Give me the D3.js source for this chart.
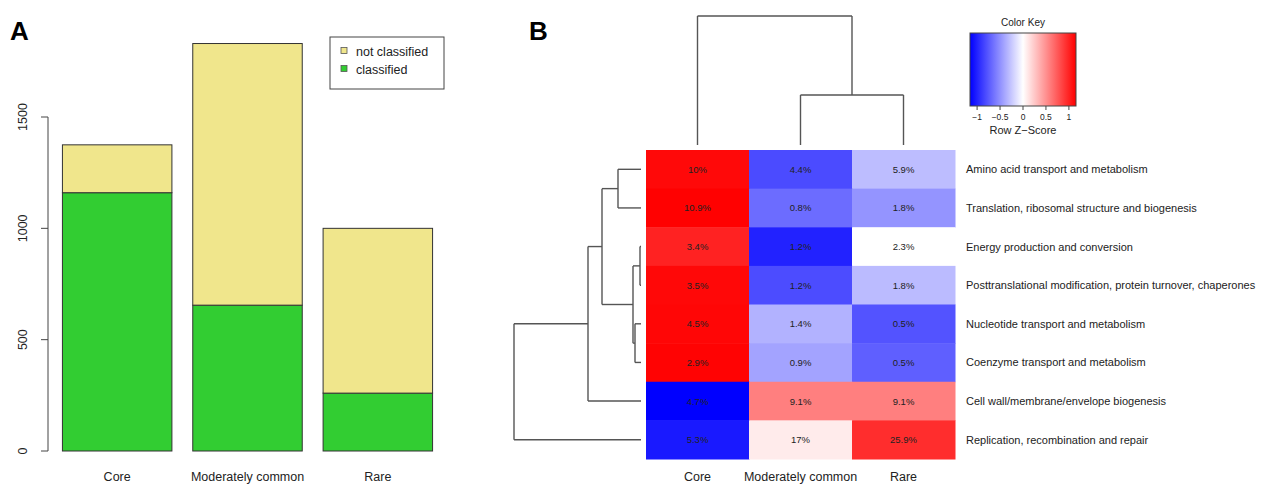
<!DOCTYPE html>
<html>
<head>
<meta charset="utf-8">
<script src="https://cdn.jsdelivr.net/npm/d3@7"></script>
<style>
  body { margin: 0; background: #fff; }
  svg { font-family: "Liberation Sans", Arial, sans-serif; }
</style>
</head>
<body>
<div id="chart"></div>
<script>
// ---- panel A data ----
const groups = ["Core", "Moderately common", "Rare"];
const classified = [1160, 655, 260];
const notClassified = [215, 1175, 740];
const yTicks = [0, 500, 1000, 1500];

// ---- panel B data ----
const rowNames = [
  "Amino acid transport and metabolism",
  "Translation, ribosomal structure and biogenesis",
  "Energy production and conversion",
  "Posttranslational modification, protein turnover, chaperones",
  "Nucleotide transport and metabolism",
  "Coenzyme transport and metabolism",
  "Cell wall/membrane/envelope biogenesis",
  "Replication, recombination and repair"
];
const coreVals = [10, 10.9, 3.4, 3.5, 4.5, 2.9, 4.7, 5.3];
const modVals = [4.4, 0.8, 1.2, 1.2, 1.4, 0.9, 9.1, 17];
const rareVals = [5.9, 1.8, 2.3, 1.8, 0.5, 0.5, 9.1, 25.9];
const cellLabels = [
  ["10%", "4.4%", "5.9%"],
  ["10.9%", "0.8%", "1.8%"],
  ["3.4%", "1.2%", "2.3%"],
  ["3.5%", "1.2%", "1.8%"],
  ["4.5%", "1.4%", "0.5%"],
  ["2.9%", "0.9%", "0.5%"],
  ["4.7%", "9.1%", "9.1%"],
  ["5.3%", "17%", "25.9%"]
];
// dendrograms, hclust style merges (negative = leaf, 1-based)
const rowMerges = [[-3, -4], [-5, -6], [1, 2], [-1, -2], [4, 3], [5, -7], [6, -8]];
const rowHeights = [1, 6, 8, 23, 39, 53, 127];
const colMerges = [[-2, -3], [-1, 1]];
const colHeights = [50, 129];
const keyTicks = [-1, -0.5, 0, 0.5, 1];

const W = 1287, H = 487;
const svg = d3.select("#chart").append("svg").attr("width", W).attr("height", H);

// ================= Panel A =================
svg.append("text").attr("x", 10).attr("y", 40).attr("font-size", 26)
  .attr("font-weight", "bold").text("A");

const yA = d3.scaleLinear().domain([0, 1500]).range([451, 117]);
const xA = d3.scaleBand().domain(groups).range([52, 443]).paddingInner(0.16).paddingOuter(0.08);

const gA = svg.append("g");
groups.forEach((g, i) => {
  gA.append("rect")
    .attr("x", xA(g)).attr("width", xA.bandwidth())
    .attr("y", yA(classified[i])).attr("height", yA(0) - yA(classified[i]))
    .attr("fill", "#32cd32").attr("stroke", "#333").attr("stroke-width", 1);
  const top = classified[i] + notClassified[i];
  gA.append("rect")
    .attr("x", xA(g)).attr("width", xA.bandwidth())
    .attr("y", yA(top)).attr("height", yA(classified[i]) - yA(top))
    .attr("fill", "#f0e68c").attr("stroke", "#333").attr("stroke-width", 1);
  gA.append("text")
    .attr("x", xA(g) + xA.bandwidth() / 2).attr("y", 481)
    .attr("text-anchor", "middle").attr("font-size", 12.5).attr("fill", "#222")
    .text(g);
});

// y axis, R style
const axA = svg.append("g").attr("stroke", "#444");
axA.append("line").attr("x1", 48).attr("x2", 48).attr("y1", yA(0)).attr("y2", yA(1500));
yTicks.forEach(t => {
  axA.append("line").attr("x1", 41).attr("x2", 48).attr("y1", yA(t)).attr("y2", yA(t));
  svg.append("text")
    .attr("transform", `translate(27,${yA(t)}) rotate(-90)`)
    .attr("text-anchor", "middle").attr("font-size", 12.5).attr("fill", "#222")
    .text(t);
});

// legend
const leg = svg.append("g");
leg.append("rect").attr("x", 330).attr("y", 37).attr("width", 114).attr("height", 52)
  .attr("fill", "#fff").attr("stroke", "#444");
[["not classified", "#f0e68c"], ["classified", "#32cd32"]].forEach((d, i) => {
  leg.append("rect").attr("x", 341).attr("y", 51 + i * 18 - 3.5).attr("width", 6).attr("height", 6)
    .attr("fill", d[1]).attr("stroke", "#555").attr("stroke-width", 0.8);
  leg.append("text").attr("x", 356).attr("y", 55.5 + i * 18)
    .attr("font-size", 12.5).attr("fill", "#222").text(d[0]);
});

// ================= Panel B =================
svg.append("text").attr("x", 529).attr("y", 40).attr("font-size", 26)
  .attr("font-weight", "bold").text("B");

const cols = groups;
const matrix = rowNames.map((r, i) => [coreVals[i], modVals[i], rareVals[i]]);
const zMax = 2 / Math.sqrt(3);
const color = d3.scaleLinear().domain([-zMax, 0, zMax]).range(["#0000ff", "#ffffff", "#ff0000"]);

const xB = d3.scaleBand().domain(cols).range([646, 955]);
const yB = d3.scaleBand().domain(d3.range(rowNames.length)).range([150, 459]);

const gB = svg.append("g");
matrix.forEach((row, i) => {
  const m = d3.mean(row), sd = d3.deviation(row);
  row.forEach((v, j) => {
    const z = (v - m) / sd;
    gB.append("rect")
      .attr("x", xB(cols[j])).attr("y", yB(i))
      .attr("width", xB.bandwidth() + 0.5).attr("height", yB.bandwidth() + 0.5)
      .attr("fill", color(z));
    gB.append("text")
      .attr("x", xB(cols[j]) + xB.bandwidth() / 2).attr("y", yB(i) + yB.bandwidth() / 2 + 3.5)
      .attr("text-anchor", "middle").attr("font-size", 9.5).attr("fill", "#222")
      .text(cellLabels[i][j]);
  });
  gB.append("text")
    .attr("x", 966).attr("y", yB(i) + yB.bandwidth() / 2 + 4)
    .attr("font-size", 11).attr("fill", "#222").text(rowNames[i]);
});
cols.forEach(c => {
  gB.append("text")
    .attr("x", xB(c) + xB.bandwidth() / 2).attr("y", 481)
    .attr("text-anchor", "middle").attr("font-size", 12.5).attr("fill", "#222").text(c);
});

// dendrogram helper: returns positions of each cluster
function drawDendro(merges, heights, leafPos, hScale, horizontal) {
  const g = svg.append("g").attr("stroke", "#555").attr("stroke-width", 1.4).attr("fill", "none");
  const pos = [];
  const node = k => k < 0 ? { p: leafPos(-k - 1), h: 0 } : pos[k - 1];
  merges.forEach((m, i) => {
    const a = node(m[0]), b = node(m[1]), h = heights[i];
    const line = (p1, h1, p2, h2) => horizontal
      ? g.append("line").attr("x1", hScale(h1)).attr("y1", p1).attr("x2", hScale(h2)).attr("y2", p2)
      : g.append("line").attr("x1", p1).attr("y1", hScale(h1)).attr("x2", p2).attr("y2", hScale(h2));
    line(a.p, a.h, a.p, h);
    line(b.p, b.h, b.p, h);
    line(a.p, h, b.p, h);
    pos.push({ p: (a.p + b.p) / 2, h: h });
  });
}

// row dendrogram (left)
const rowH = d3.scaleLinear().domain([0, 128]).range([641, 513]);
drawDendro(rowMerges, rowHeights, i => yB(i) + yB.bandwidth() / 2,
  h => rowH(h), true);

// column dendrogram (top)
const colH = d3.scaleLinear().domain([0, 129]).range([145, 16]);
drawDendro(colMerges, colHeights, j => xB(cols[j]) + xB.bandwidth() / 2,
  h => colH(h), false);

// color key
const keyX = d3.scaleLinear().domain([-zMax, zMax]).range([970, 1076]);
const defs = svg.append("defs");
const grad = defs.append("linearGradient").attr("id", "keyGrad");
d3.range(0, 1.0001, 0.1).forEach(t => {
  grad.append("stop").attr("offset", t).attr("stop-color", color(-zMax + 2 * zMax * t));
});
svg.append("text").attr("x", 1023).attr("y", 26).attr("text-anchor", "middle")
  .attr("font-size", 10).attr("fill", "#222").text("Color Key");
svg.append("rect").attr("x", 970).attr("y", 33).attr("width", 106).attr("height", 73)
  .attr("fill", "url(#keyGrad)").attr("stroke", "#444");
keyTicks.forEach(t => {
  svg.append("line").attr("x1", keyX(t)).attr("x2", keyX(t)).attr("y1", 106).attr("y2", 110)
    .attr("stroke", "#444");
  svg.append("text").attr("x", keyX(t)).attr("y", 120).attr("text-anchor", "middle")
    .attr("font-size", 8.5).attr("fill", "#222").text(t === -1 ? "\u22121" : t === -0.5 ? "\u22120.5" : t);
});
svg.append("text").attr("x", 1023).attr("y", 134).attr("text-anchor", "middle")
  .attr("font-size", 11).attr("fill", "#222").text("Row Z\u2212Score");
</script>
</body>
</html>
